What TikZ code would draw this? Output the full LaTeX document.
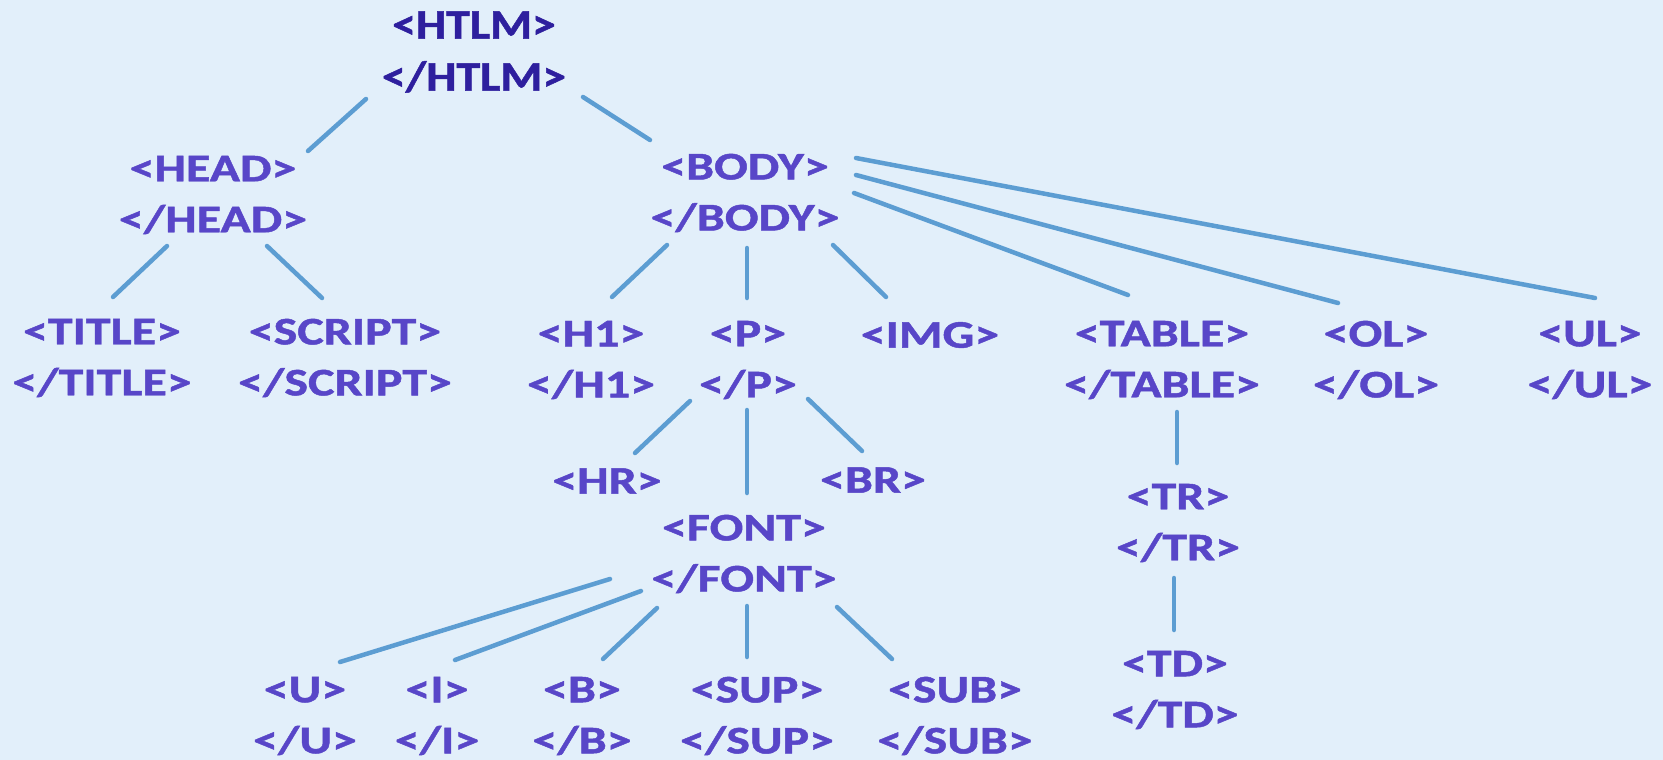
\documentclass[tikz,border=0pt]{standalone}
\usepackage{fontspec}
\setmainfont{Carlito}[BoldFeatures={FakeStretch=1.28,FakeBold=1.2}]
\newfontfamily\rootfont{Carlito}[BoldFeatures={FakeStretch=1.14,FakeBold=1.2}]
\definecolor{bgc}{HTML}{E2EFFA}
\definecolor{tagc}{HTML}{5846C8}
\definecolor{rootc}{HTML}{2E1F9E}
\definecolor{linkc}{HTML}{5C9DD2}
\begin{document}
\begin{tikzpicture}[x=1pt,y=-1pt,
  tag/.style={text=tagc,font=\fontsize{39}{51}\selectfont\bfseries,align=center,inner sep=0pt},
  roottag/.style={tag,text=rootc,font=\rootfont\fontsize{42}{52}\selectfont\bfseries},
  link/.style={draw=linkc,line width=4.5pt,line cap=round}]
\fill[bgc] (0,0) rectangle (1663,760);
\useasboundingbox (0,0) rectangle (1663,760);
% nodes
\node[roottag] (htlm) at (474,52) {<HTLM>\\</HTLM>};
\node[tag] (head) at (213,195) {<HEAD>\\</HEAD>};
\node[tag] (body) at (745,193) {<BODY>\\</BODY>};
\node[tag] (title) at (102,358) {<TITLE>\\</TITLE>};
\node[tag] (script) at (345,358) {<SCRIPT>\\</SCRIPT>};
\node[tag] (h1) at (591,360) {<H1>\\</H1>};
\node[tag] (p) at (748,360) {<P>\\</P>};
\node[tag] (img) at (930,335) {<IMG>};
\node[tag] (table) at (1162,360) {<TABLE>\\</TABLE>};
\node[tag] (ol) at (1376,360) {<OL>\\</OL>};
\node[tag] (ul) at (1590,360) {<UL>\\</UL>};
\node[tag] (hr) at (607,481) {<HR>};
\node[tag] (br) at (873,480) {<BR>};
\node[tag] (font) at (744,554) {<FONT>\\</FONT>};
\node[tag] (tr) at (1178,523) {<TR>\\</TR>};
\node[tag] (td) at (1175,690) {<TD>\\</TD>};
\node[tag] (u) at (305,716) {<U>\\</U>};
\node[tag] (i) at (437,716) {<I>\\</I>};
\node[tag] (b) at (582,716) {<B>\\</B>};
\node[tag] (sup) at (757,716) {<SUP>\\</SUP>};
\node[tag] (sub) at (955,716) {<SUB>\\</SUB>};
% connectors
\draw[link] ([shift={(-108,47)}]htlm.center) -- ([shift={(95,-44)}]head.center);
\draw[link] ([shift={(109,45)}]htlm.center) -- ([shift={(-95,-53)}]body.center);
\draw[link] ([shift={(-46,51)}]head.center) -- ([shift={(11,-61)}]title.center);
\draw[link] ([shift={(54,51)}]head.center) -- ([shift={(-23,-60)}]script.center);
\draw[link] ([shift={(-78,52)}]body.center) -- ([shift={(21,-63)}]h1.center);
\draw[link] ([shift={(2,55)}]body.center) -- ([shift={(-1,-62)}]p.center);
\draw[link] ([shift={(88,52)}]body.center) -- ([shift={(-44,-38)}]img.center);
\draw[link] ([shift={(109,0)}]body.center) -- ([shift={(-34,-65)}]table.center);
\draw[link] ([shift={(111,-18)}]body.center) -- ([shift={(-38,-57)}]ol.center);
\draw[link] ([shift={(111,-35)}]body.center) -- ([shift={(5,-62)}]ul.center);
\draw[link] ([shift={(-58,41)}]p.center) -- ([shift={(28,-28)}]hr.center);
\draw[link] ([shift={(-1,50)}]p.center) -- ([shift={(3,-61)}]font.center);
\draw[link] ([shift={(60,39)}]p.center) -- ([shift={(-11,-29)}]br.center);
\draw[link] ([shift={(-134,25)}]font.center) -- ([shift={(35,-54)}]u.center);
\draw[link] ([shift={(-103,37)}]font.center) -- ([shift={(18,-56)}]i.center);
\draw[link] ([shift={(-87,54)}]font.center) -- ([shift={(21,-57)}]b.center);
\draw[link] ([shift={(3,52)}]font.center) -- ([shift={(-10,-59)}]sup.center);
\draw[link] ([shift={(93,53)}]font.center) -- ([shift={(-63,-57)}]sub.center);
\draw[link] ([shift={(15,52)}]table.center) -- ([shift={(-1,-60)}]tr.center);
\draw[link] ([shift={(-4,55)}]tr.center) -- ([shift={(-1,-60)}]td.center);
\end{tikzpicture}
\end{document}
